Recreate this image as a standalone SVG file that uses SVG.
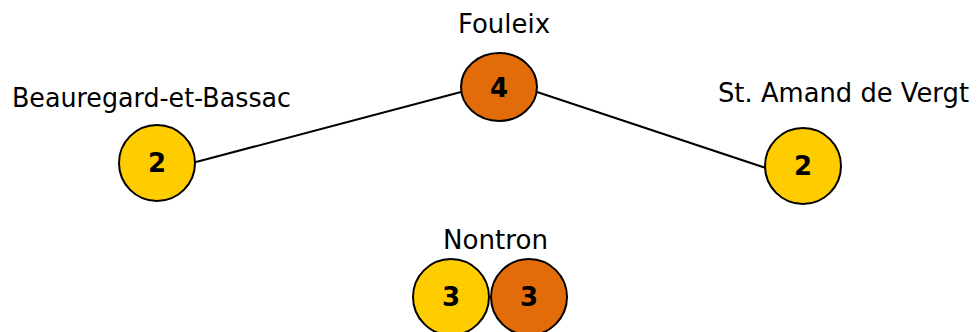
<svg xmlns="http://www.w3.org/2000/svg" width="979" height="332" viewBox="0 0 979 332">
<style>
.lbl{font-family:"DejaVu Sans","Liberation Sans",sans-serif;font-size:26px;fill:#000;text-anchor:middle}
.num{font-family:"DejaVu Sans","Liberation Sans",sans-serif;font-size:26px;font-weight:bold;fill:#000;text-anchor:middle}
.y{fill:#FFCC00;stroke:#000;stroke-width:2}
.o{fill:#E36C0A;stroke:#000;stroke-width:2}
.edge{stroke:#000;stroke-width:2;fill:none}
</style>
<rect width="979" height="332" fill="#fff"/>
<g id="connectors">
<line class="edge" x1="196" y1="162" x2="461" y2="92"/>
<line class="edge" x1="537" y1="92" x2="766" y2="168"/>
</g>
<g id="fouleix">
<text class="lbl" x="504" y="33" textLength="92" lengthAdjust="spacingAndGlyphs">Fouleix</text>
<ellipse class="o" cx="499" cy="87" rx="38" ry="34"/>
<text class="num" x="499" y="97">4</text>
</g>
<g id="beauregard">
<text class="lbl" x="151.5" y="107" textLength="279" lengthAdjust="spacingAndGlyphs">Beauregard-et-Bassac</text>
<circle class="y" cx="157" cy="163" r="38"/>
<text class="num" x="157" y="172">2</text>
</g>
<g id="stamand">
<text class="lbl" x="843.5" y="102" textLength="251" lengthAdjust="spacingAndGlyphs">St. Amand de Vergt</text>
<circle class="y" cx="803" cy="166" r="38"/>
<text class="num" x="803" y="175">2</text>
</g>
<g id="nontron">
<text class="lbl" x="495.5" y="249" textLength="105" lengthAdjust="spacingAndGlyphs">Nontron</text>
<circle class="y" cx="451" cy="297" r="38"/>
<text class="num" x="451" y="306">3</text>
<circle class="o" cx="529" cy="297" r="38"/>
<text class="num" x="529" y="306">3</text>
</g>
</svg>
